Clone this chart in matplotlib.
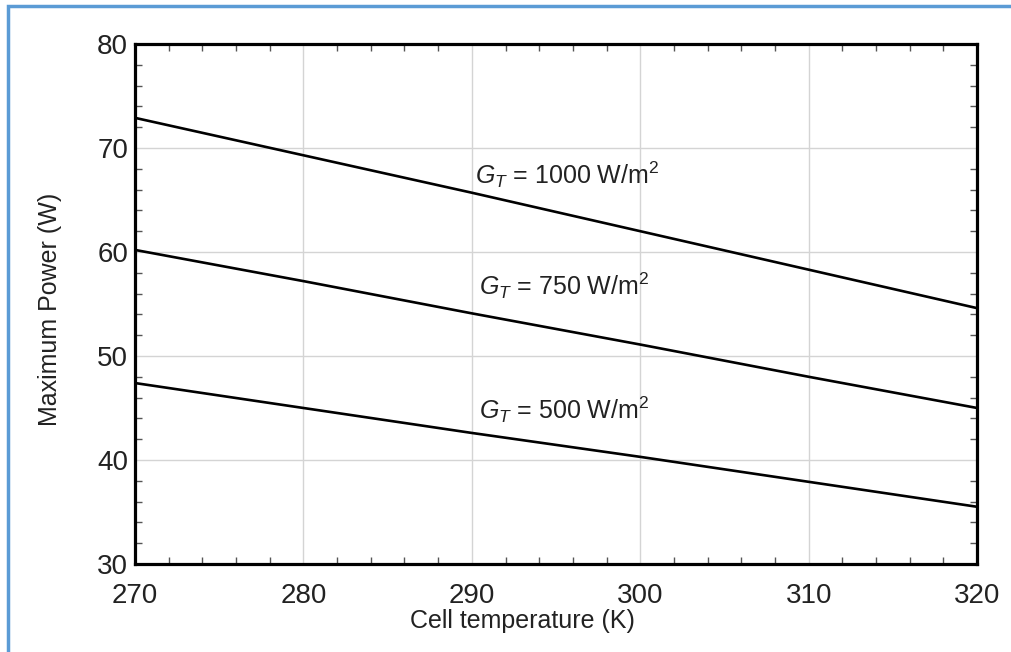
import matplotlib
matplotlib.use("Agg")
import matplotlib.pyplot as plt
from matplotlib.patches import Rectangle
from matplotlib.ticker import MultipleLocator

plt.rcParams["font.family"] = ["Liberation Sans", "DejaVu Sans"]
plt.rcParams["mathtext.fontset"] = "custom"
plt.rcParams["mathtext.rm"] = "Liberation Sans"
plt.rcParams["mathtext.it"] = "Liberation Sans:italic"

# data
temps = [270, 280, 290, 300, 310, 320]
p_1000 = [72.9, 69.3, 65.7, 62.0, 58.3, 54.6]
p_750 = [60.2, 57.2, 54.1, 51.1, 48.0, 45.0]
p_500 = [47.4, 45.0, 42.6, 40.3, 37.9, 35.5]
labels = [r"$G_T$ = 1000 W/m$^2$", r"$G_T$ = 750 W/m$^2$", r"$G_T$ = 500 W/m$^2$"]
label_pos = [(290.2, 67.4), (290.4, 56.8), (290.4, 44.8)]

fig = plt.figure(figsize=(10.11, 6.52), dpi=100)
fig.patches.append(Rectangle((8 / 1011, -0.1), 1.2, (646 / 652) + 0.1,
                             transform=fig.transFigure, fill=False,
                             edgecolor="#5b9bd5", lw=2.5))
ax = fig.add_axes([0.1335, 0.135, 0.833, 0.7975])

for series in (p_1000, p_750, p_500):
    ax.plot(temps, series, color="black", lw=1.9)

for txt, (x, y) in zip(labels, label_pos):
    ax.text(x, y, txt, fontsize=18, ha="left", va="center", color="#222222")

ax.set_xlim(270, 320)
ax.set_ylim(30, 80)
ax.xaxis.set_major_locator(MultipleLocator(10))
ax.xaxis.set_minor_locator(MultipleLocator(2))
ax.yaxis.set_major_locator(MultipleLocator(10))
ax.yaxis.set_minor_locator(MultipleLocator(2))
ax.grid(True, which="major", color="#d4d4d4", lw=1.0)
ax.set_axisbelow(True)

ax.tick_params(which="both", direction="in", top=True, right=True,
               color="#555555", width=1.0)
ax.tick_params(which="major", length=0)
ax.tick_params(which="minor", length=5)
ax.tick_params(axis="x", which="major", labelsize=20, pad=14, labelcolor="#222222")
ax.tick_params(axis="y", which="major", labelsize=20, pad=5, labelcolor="#222222")

for sp in ax.spines.values():
    sp.set_linewidth(2.3)
    sp.set_color("black")

ax.set_xlabel("Cell temperature (K)", fontsize=18, color="#222222")
ax.xaxis.set_label_coords(0.46, -0.086)
ax.set_ylabel("Maximum Power (W)", fontsize=18, color="#222222")
ax.yaxis.set_label_coords(-0.087, 0.49)

fig.savefig("out.png", dpi=100, facecolor="white")
